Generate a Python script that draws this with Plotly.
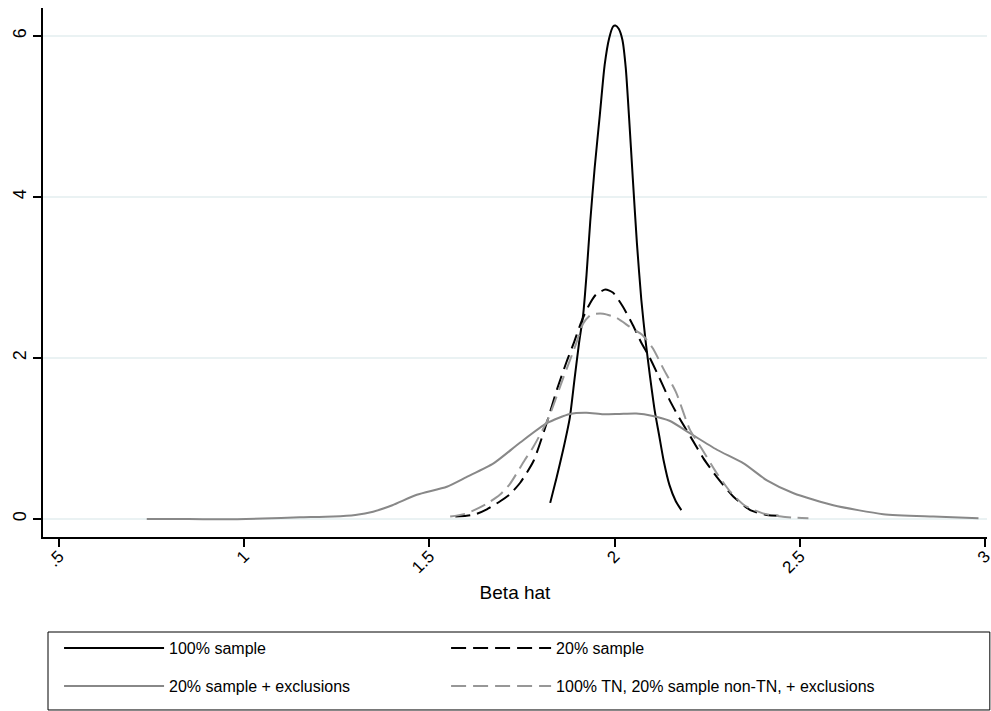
import plotly.graph_objects as go

# --- data (kernel density curves) ---
x_full = [1.826, 1.843, 1.861, 1.879, 1.892, 1.904, 1.915, 1.924, 1.934, 1.946, 1.960, 1.973, 1.985,
          1.996, 2.002, 2.011, 2.021, 2.030, 2.039, 2.049, 2.060, 2.072, 2.084, 2.096, 2.108, 2.120,
          2.132, 2.148, 2.165, 2.180]
y_full = [0.20, 0.51, 0.86, 1.26, 1.75, 2.19, 2.54, 3.03, 3.69, 4.36, 5.02, 5.64, 5.97,
          6.12, 6.13, 6.09, 5.95, 5.60, 4.98, 4.23, 3.43, 2.72, 2.19, 1.75, 1.35, 1.04,
          0.73, 0.42, 0.22, 0.11]

x_20 = [1.570, 1.600, 1.625, 1.655, 1.691, 1.718, 1.745, 1.781, 1.817, 1.845, 1.870, 1.890, 1.910,
        1.930, 1.950, 1.975, 1.996, 2.022, 2.049, 2.072, 2.094, 2.121, 2.148, 2.175, 2.205, 2.240,
        2.276, 2.320, 2.366, 2.411, 2.445]
y_20 = [0.03, 0.04, 0.06, 0.12, 0.22, 0.31, 0.45, 0.72, 1.20, 1.62, 1.95, 2.19, 2.45,
        2.65, 2.79, 2.85, 2.81, 2.64, 2.41, 2.19, 2.01, 1.75, 1.48, 1.25, 1.02, 0.75,
        0.52, 0.28, 0.11, 0.05, 0.04]

x_excl = [0.737, 0.85, 0.95, 1.05, 1.15, 1.24, 1.30, 1.348, 1.40, 1.466, 1.547, 1.60, 1.673, 1.745,
          1.817, 1.879, 1.924, 1.969, 2.013, 2.058, 2.103, 2.148, 2.205, 2.276, 2.348, 2.411, 2.483,
          2.59, 2.725, 2.86, 2.982]
y_excl = [0.00, 0.00, -0.005, 0.005, 0.02, 0.03, 0.05, 0.09, 0.17, 0.30, 0.40, 0.52, 0.69, 0.95,
          1.19, 1.305, 1.32, 1.30, 1.305, 1.31, 1.28, 1.22, 1.06, 0.86, 0.69, 0.48, 0.32,
          0.17, 0.06, 0.03, 0.01]

x_tn = [1.556, 1.601, 1.655, 1.690, 1.718, 1.757, 1.781, 1.821, 1.861, 1.897, 1.915, 1.937, 1.969,
        2.004, 2.040, 2.076, 2.103, 2.130, 2.166, 2.202, 2.238, 2.274, 2.310, 2.350, 2.400, 2.450,
        2.490, 2.523]
y_tn = [0.03, 0.07, 0.19, 0.30, 0.44, 0.73, 0.90, 1.25, 1.75, 2.19, 2.43, 2.54, 2.55,
        2.50, 2.39, 2.28, 2.12, 1.88, 1.57, 1.12, 0.85, 0.58, 0.35, 0.17, 0.07, 0.03,
        0.015, 0.01]

names = ["100% sample", "20% sample", "20% sample + exclusions",
         "100% TN, 20% sample non-TN, + exclusions"]

x_tickvals = [0.5, 1, 1.5, 2, 2.5, 3]
x_ticktext = [".5", "1", "1.5", "2", "2.5", "3"]
y_tickvals = [0, 2, 4, 6]
y_ticktext = ["0", "2", "4", "6"]

FONT = "Liberation Sans, Arial, sans-serif"
DASH = "15px,7px"

fig = go.Figure()
fig.add_trace(go.Scatter(x=x_full, y=y_full, mode="lines", name=names[0], legend="legend",
                         line=dict(color="black", width=2, shape="spline", smoothing=0.6)))
fig.add_trace(go.Scatter(x=x_20, y=y_20, mode="lines", name=names[1], legend="legend2",
                         line=dict(color="black", width=2, dash=DASH, shape="spline", smoothing=0.6)))
fig.add_trace(go.Scatter(x=x_excl, y=y_excl, mode="lines", name=names[2], legend="legend3",
                         line=dict(color="#888888", width=2, shape="spline", smoothing=0.6)))
fig.add_trace(go.Scatter(x=x_tn, y=y_tn, mode="lines", name=names[3], legend="legend4",
                         line=dict(color="#979797", width=2, dash=DASH, shape="spline", smoothing=0.6)))

def leg(xp, yp):
    return dict(x=xp, y=yp, xanchor="left", yanchor="middle", xref="paper", yref="paper",
                orientation="h", itemwidth=100, bgcolor="rgba(0,0,0,0)", borderwidth=0,
                font=dict(size=16, family=FONT, color="black"))

fig.update_layout(
    width=991, height=711,
    margin=dict(l=43, r=4, t=8, b=174),
    paper_bgcolor="white", plot_bgcolor="white",
    font=dict(family=FONT, size=16, color="black"),
    xaxis=dict(range=[0.457, 3.005], tickvals=x_tickvals, ticktext=x_ticktext, automargin=False,
               tickangle=-45, ticks="outside", ticklen=8, tickwidth=1.5, tickcolor="black",
               showline=True, linecolor="black", linewidth=1.5, showgrid=False, zeroline=False,
               ticklabelstandoff=-7, ticklabeloverflow="allow",
               title=dict(text="Beta hat", font=dict(size=19), standoff=9),
               tickfont=dict(size=17)),
    yaxis=dict(range=[-0.224, 6.348], tickvals=y_tickvals, ticktext=y_ticktext, automargin=False,
               tickangle=-90, ticks="outside", ticklen=8, tickwidth=1.5, tickcolor="black",
               showline=True, linecolor="black", linewidth=1.5, showgrid=True,
               gridcolor="#eaf2f3", gridwidth=1.5, zeroline=False, tickfont=dict(size=18)),
    showlegend=True,
    legend=leg(0.0170, -0.2098),
    legend2=leg(0.4270, -0.2098),
    legend3=leg(0.0170, -0.2817),
    legend4=leg(0.4270, -0.2817),
    shapes=[dict(type="rect", xref="paper", yref="paper", x0=0.0053, x1=1.003,
                 y0=-0.327, y1=-0.1796, line=dict(color="black", width=1), layer="below")],
)

fig.write_html("out.html", config={"displayModeBar": False},
               post_script="document.body.style.margin='0px';")
